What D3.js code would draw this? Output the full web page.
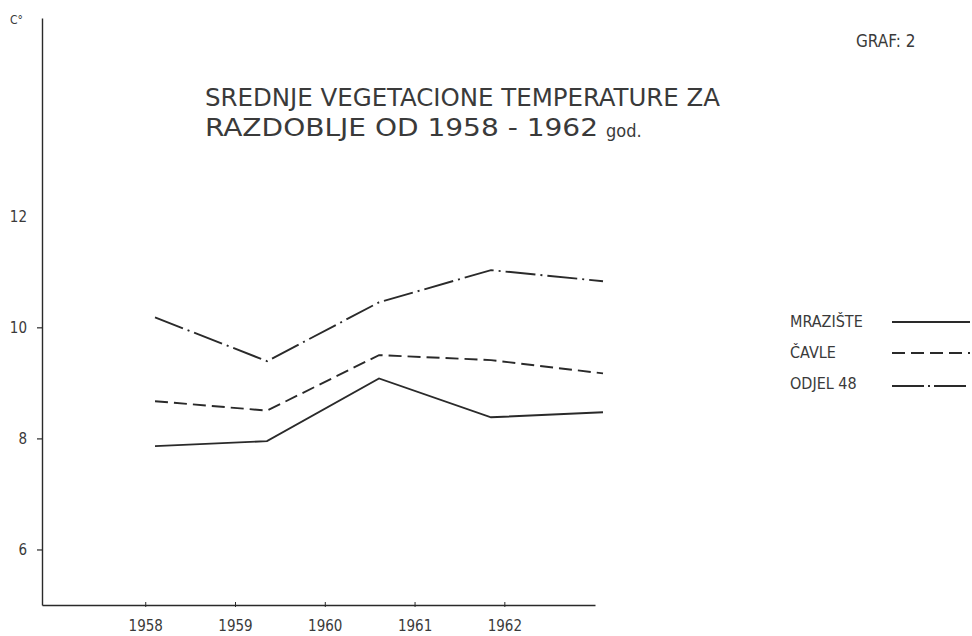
<!DOCTYPE html>
<html><head><meta charset="utf-8">
<script src="https://cdn.jsdelivr.net/npm/d3@7"></script>
<style>
html,body{margin:0;padding:0;background:#fff;}
svg text{font-family:"DejaVu Sans Condensed","DejaVu Sans",sans-serif;fill:#3a3a3a;}
</style></head>
<body><svg id="c" width="972" height="636"></svg>
<script>
const years = [1958, 1959, 1960, 1961, 1962];
const yTicks = [6, 8, 10, 12];
const seriesNames = ["MRAZIŠTE", "ČAVLE", "ODJEL 48"];
const mraziste = [7.86, 7.95, 9.08, 8.38, 8.47];
const cavle = [8.67, 8.50, 9.50, 9.41, 9.17];
const odjel48 = [10.18, 9.39, 10.45, 11.03, 10.83];
const titleLines = ["SREDNJE  VEGETACIONE  TEMPERATURE  ZA", "RAZDOBLJE  OD  1958 - 1962"];

const svg = d3.select("#c");
const ink = "#2a2a2a";

const y = d3.scaleLinear().domain([5, 15.57]).range([605, 18]);
const xAxisScale = d3.scaleLinear().domain([1956.85, 1963.01]).range([42, 595]);
const xLine = d3.scaleLinear().domain([1958, 1962]).range([155, 603]);

// Y axis
const yAxis = d3.axisLeft(y).tickValues(yTicks).tickSize(5).tickSizeOuter(0).tickFormat(d3.format("d"));
const gy = svg.append("g").attr("transform", "translate(42,0)").call(yAxis);
gy.select(".domain").attr("stroke", ink).attr("stroke-width", 1.4);
gy.selectAll(".tick line").attr("stroke", ink).attr("stroke-width", 1.2);
gy.selectAll(".tick text").attr("x", -15).attr("font-size", 15).attr("fill", "#555")
  .style("font-family", "'DejaVu Sans Condensed',sans-serif");
gy.select(".tick:last-of-type line").remove();

// X axis
const xAxis = d3.axisBottom(xAxisScale).tickValues(years).tickSize(3).tickSizeOuter(0).tickFormat(d3.format("d"));
const gx = svg.append("g").attr("transform", "translate(0,605)").call(xAxis);
gx.select(".domain").attr("stroke", ink).attr("stroke-width", 1.4);
gx.selectAll(".tick line").attr("stroke", ink).attr("y1", -3).attr("y2", 2);
gx.selectAll(".tick text").attr("y", 15).attr("font-size", 15).attr("fill", "#444")
  .style("font-family", "'DejaVu Sans Condensed',sans-serif");

// Lines
const styles = [null, "13,6", "30,5,2,5"];
const data = [mraziste, cavle, odjel48];
const line = d3.line().x((d, i) => xLine(years[i])).y(d => y(d));
data.forEach((s, k) => {
  svg.append("path").datum(s).attr("d", line).attr("fill", "none")
    .attr("stroke", ink).attr("stroke-width", 1.9)
    .attr("stroke-dasharray", styles[k]);
});

// Unit label
svg.append("text").attr("x", 10).attr("y", 24).attr("font-size", 12).attr("fill", "#888").text("C°");

// Title
svg.append("text").attr("x", 205).attr("y", 106).attr("font-size", 25).attr("fill", "#2f2f2f")
  .attr("textLength", 515).attr("lengthAdjust", "spacingAndGlyphs").text(titleLines[0]);
svg.append("text").attr("x", 205).attr("y", 136).attr("font-size", 25).attr("fill", "#2f2f2f")
  .attr("textLength", 393).attr("lengthAdjust", "spacingAndGlyphs").text(titleLines[1]);
svg.append("text").attr("x", 606).attr("y", 137).attr("font-size", 18).attr("fill", "#2f2f2f").text("god.");

// GRAF
svg.append("text").attr("x", 856).attr("y", 47).attr("font-size", 17).attr("fill", "#555").text("GRAF: 2");

// Legend
const legY = [321, 352, 383];
seriesNames.forEach((n, k) => {
  svg.append("text").attr("x", 790).attr("y", legY[k] + 6).attr("font-size", 16)
    .attr("fill", "#444").text(n);
  svg.append("line").attr("x1", 892).attr("x2", 970)
    .attr("y1", legY[k] + 1 + (k === 2 ? 2 : 0)).attr("y2", legY[k] + 1 + (k === 2 ? 2 : 0))
    .attr("stroke", ink).attr("stroke-width", 1.9)
    .attr("stroke-dasharray", k === 1 ? "13,6" : (k === 2 ? "32,4,2,4" : null));
});
</script></body></html>
